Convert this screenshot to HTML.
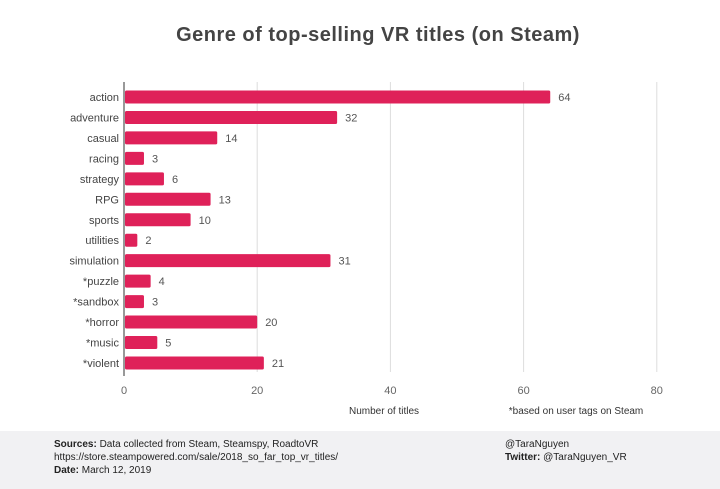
<!DOCTYPE html>
<html><head><meta charset="utf-8">
<style>
body{margin:0;width:720px;height:489px;background:#fff;overflow:hidden;font-family:"Liberation Sans",sans-serif;}
#footer{position:absolute;left:0;top:431px;width:720px;height:58px;background:#f1f1f3;}
.ft{position:absolute;font-size:10px;color:#222;line-height:13px;}
</style></head><body>
<svg id="chart" width="720" height="431" style="position:absolute;left:0;top:0">
<text x="378" y="41" text-anchor="middle" font-size="20" letter-spacing="0.5" font-weight="bold" fill="#444">Genre of top-selling VR titles (on Steam)</text>
<g id="grid"></g><g id="bars"></g>
<text x="384" y="414" text-anchor="middle" font-size="10" fill="#333">Number of titles</text>
<text x="576" y="414" text-anchor="middle" font-size="10" fill="#333">*based on user tags on Steam</text>
</svg>
<div id="footer">
<div class="ft" style="left:54px;top:7px"><b>Sources:</b> Data collected from Steam, Steamspy, RoadtoVR<br>https://store.steampowered.com/sale/2018_so_far_top_vr_titles/<br><b>Date:</b> March 12, 2019</div>
<div class="ft" style="left:505px;top:7px">@TaraNguyen<br><b>Twitter:</b> @TaraNguyen_VR</div>
</div>
<script>
const categories=["action","adventure","casual","racing","strategy","RPG","sports","utilities","simulation","*puzzle","*sandbox","*horror","*music","*violent"];
const values=[64,32,14,3,6,13,10,2,31,4,3,20,5,21];
const ticks=[0,20,40,60,80];
const NS="http://www.w3.org/2000/svg";
const x=v=>124+v*6.66;
const y=i=>97+i*20.46;
function mk(t,a,p){const e=document.createElementNS(NS,t);for(const k in a)e.setAttribute(k,a[k]);p.appendChild(e);return e;}
const g=document.getElementById('grid'),b=document.getElementById('bars');
ticks.forEach(t=>{
 const l=mk('line',{x1:x(t),x2:x(t),y1:82,y2:t===0?376:372,stroke:t===0?'#333':'#ddd','stroke-width':1},g);
 
 
 const tx=mk('text',{x:x(t),y:394,'text-anchor':'middle','font-size':11,fill:'#666'},g);tx.textContent=t;
 
 
});
categories.forEach((c,i)=>{
 const lb=mk('text',{x:119,y:y(i)+4,'text-anchor':'end','font-size':11,fill:'#444'},b);lb.textContent=c;
 
 
 const r=mk('rect',{x:x(0)+1,y:y(i)-6.5,width:x(values[i])-x(0)-1,height:13,rx:1.5,fill:'#df2159'},b);
 
 
 const v=mk('text',{x:x(values[i])+8,y:y(i)+4,'font-size':11,fill:'#555'},b);v.textContent=values[i];
 
 
});
</script>
</body></html>
